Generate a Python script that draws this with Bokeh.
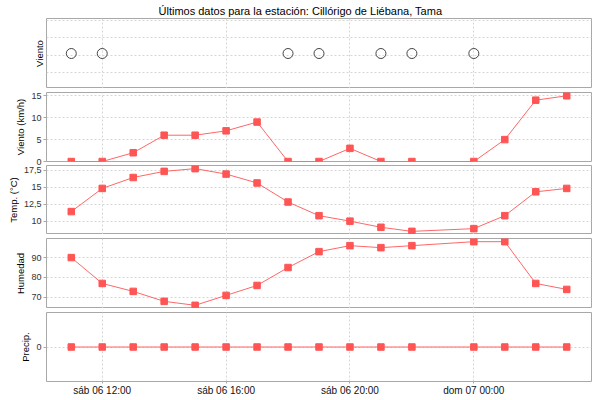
import pandas as pd
from bokeh.plotting import figure
from bokeh.layouts import column
from bokeh.models import Range1d, FixedTicker, CustomJSTickFormatter
from bokeh.embed import file_html
from bokeh.resources import INLINE

# ---------------- data ----------------
times = ["2019-04-06 11:00", "2019-04-06 12:00", "2019-04-06 13:00", "2019-04-06 14:00",
         "2019-04-06 15:00", "2019-04-06 16:00", "2019-04-06 17:00", "2019-04-06 18:00",
         "2019-04-06 19:00", "2019-04-06 20:00", "2019-04-06 21:00", "2019-04-06 22:00",
         "2019-04-07 00:00", "2019-04-07 01:00", "2019-04-07 02:00", "2019-04-07 03:00"]
wind_speed = [0, 0, 2, 6, 6, 7, 9, 0, 0, 3, 0, 0, 0, 5, 14, 15]
temperature = [11.4, 14.8, 16.4, 17.3, 17.7, 16.9, 15.6, 12.8, 10.8, 10.0, 9.1, 8.5, 8.9, 10.8, 14.3, 14.8]
humidity = [90, 77, 73, 68, 66, 71, 76, 85, 93, 96, 95, 96, 98, 98, 77, 74]
precip = [0, 0, 0, 0, 0, 0, 0, 0, 0, 0, 0, 0, 0, 0, 0, 0]
x_tick_times = ["2019-04-06 12:00", "2019-04-06 16:00", "2019-04-06 20:00", "2019-04-07 00:00"]
title_text = "Últimos datos para la estación: Cillórigo de Liébana, Tama"
labels = ["Viento", "Viento (km/h)", "Temp. (°C)", "Humedad", "Precip."]

# ---------------- derived ----------------
t = pd.to_datetime(times)
span = t[-1] - t[0]
x_range = Range1d(t[0] - span * 0.05, t[-1] + span * 0.05)
xticks = [pd.Timestamp(s).value / 1e6 for s in x_tick_times]
calm_t = [ti for ti, w in zip(t, wind_speed) if w == 0]
calm_y = [0 for _ in calm_t]

def padded(vals, lo_clip=None):
    lo, hi = min(vals), max(vals)
    pad = (hi - lo) * 0.05
    lo2 = lo - pad
    if lo_clip is not None:
        lo2 = max(lo2, lo_clip)
    return Range1d(lo2, hi + pad)

FONT = "Liberation Sans"
RED = "#ff5555"
GRID = "#d6d6d6"

def make(label, y_range, frame_h, yticks, gridticks=None, top=4, bottom=0, title=None, bottom_axis=False):
    p = figure(width=592, frame_height=frame_h, x_range=x_range, y_range=y_range,
               x_axis_type="datetime", output_backend="svg", toolbar_location=None,
               min_border_left=46, min_border_right=1, min_border_top=top,
               min_border_bottom=bottom, background_fill_color="white",
               border_fill_color="white", outline_line_color="#a8a8a8")
    if title:
        p.title.text = title
        p.title.align = "left"
        p.title.offset = 112
        p.title.standoff = 4
        p.title.text_font = FONT
        p.title.text_font_size = "11px"
        p.title.text_font_style = "normal"
        p.title.text_color = "black"
    p.xgrid.ticker = FixedTicker(ticks=xticks)
    p.ygrid.ticker = FixedTicker(ticks=gridticks if gridticks is not None else yticks)
    for g in (p.xgrid, p.ygrid):
        g.grid_line_color = GRID
        g.grid_line_dash = "2 2"
    ya = p.yaxis[0]
    ya.ticker = FixedTicker(ticks=yticks)
    ya.formatter = CustomJSTickFormatter(code="return String(tick).replace('.', ',');")
    ya.axis_label = label
    ya.axis_label_text_font = FONT
    ya.axis_label_text_font_size = "9.5px"
    ya.axis_label_text_font_style = "normal"
    ya.axis_label_text_color = "black"
    ya.axis_label_standoff = 2
    ya.major_label_text_font = FONT
    ya.major_label_text_font_size = "9px"
    ya.major_label_text_color = "#333333"
    ya.major_label_standoff = 2
    ya.major_tick_out = 3
    ya.major_tick_in = 0
    ya.major_tick_line_color = "#a8a8a8"
    ya.minor_tick_line_color = None
    ya.axis_line_color = None
    xa = p.xaxis[0]
    if bottom_axis:
        xa.ticker = FixedTicker(ticks=xticks)
        xa.formatter = CustomJSTickFormatter(code="""
const days = ['dom','lun','mar','mié','jue','vie','sáb'];
const d = new Date(tick);
const pd2 = n => String(n).padStart(2, '0');
return days[d.getUTCDay()] + ' ' + pd2(d.getUTCDate()) + ' ' + pd2(d.getUTCHours()) + ':' + pd2(d.getUTCMinutes());
""")
        xa.major_label_text_font = FONT
        xa.major_label_text_font_size = "10px"
        xa.major_label_text_color = "#111111"
        xa.major_label_standoff = 1
        xa.major_tick_out = 2
        xa.major_tick_in = 0
        xa.major_tick_line_color = "#a8a8a8"
        xa.minor_tick_line_color = None
        xa.axis_line_color = None
    else:
        xa.visible = False
    return p

p1 = make(labels[0], Range1d(-1, 1), 70, [], gridticks=[-0.55, -0.05, 0.45, 0.95], top=0, title=title_text)
p1.scatter(calm_t, calm_y, marker="circle", size=10, fill_color=None, line_color="#444444", line_width=1)

p2 = make(labels[1], padded(wind_speed, lo_clip=0), 69, [0, 5, 10, 15], bottom=4)
p3 = make(labels[2], padded(temperature), 69, [10, 12.5, 15, 17.5], top=0)
p4 = make(labels[3], padded(humidity), 70, [70, 80, 90])
p5 = make(labels[4], Range1d(-1, 1), 69, [0], bottom_axis=True)

for p, vals in ((p2, wind_speed), (p3, temperature), (p4, humidity), (p5, precip)):
    p.line(t, vals, line_color=RED, line_width=1, line_alpha=0.9)
    p.scatter(t, vals, marker="square", size=6.5, fill_color=RED, line_color=RED)

layout = column(p1, p2, p3, p4, p5, spacing=0)
open("out.html", "w").write(file_html(layout, INLINE))
